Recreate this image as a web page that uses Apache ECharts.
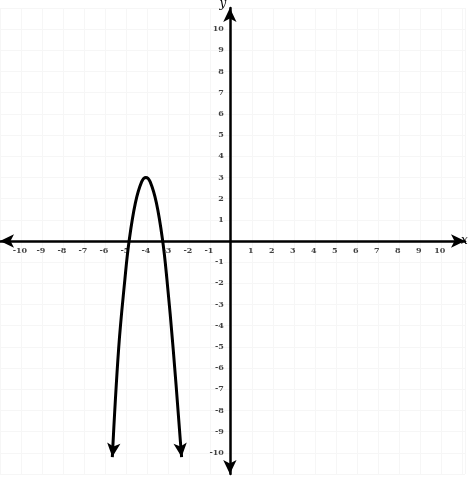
<!DOCTYPE html>
<html><head><meta charset="utf-8">
<script src="https://cdn.jsdelivr.net/npm/echarts@6/dist/echarts.min.js"></script>
<style>html,body{margin:0;background:#fff}#c{width:474px;height:478px}</style>
</head><body><div id="c"></div>
<script>
// 读图得到的抛物线点 (x, y)
const curveX = [-5.6, -5.3, -5.0, -4.8, -4.5, -4.2, -4.0, -3.8, -3.5, -3.2, -3.0, -2.7, -2.3]
const curveY = [-10.2, -5.1, -1.8, 0, 1.8, 2.8, 3.0, 2.8, 1.8, 0, -1.8, -5.1, -10.2]
const ticks = [-10, -9, -8, -7, -6, -5, -4, -3, -2, -1, 1, 2, 3, 4, 5, 6, 7, 8, 9, 10]

const chart = echarts.init(document.getElementById('c'))
const data = curveX.map((x, i) => {
    let item = { value: [x, curveY[i]], symbol: 'none' }
    if (i == 0) item = { value: [x, curveY[i]], symbol: 'arrow', symbolSize: [10, 14], symbolRotate: 174 }
    if (i == curveX.length - 1) item = { value: [x, curveY[i]], symbol: 'arrow', symbolSize: [10, 14], symbolRotate: 186 }
    return item
})
const labelFont = { fontFamily: 'DejaVu Serif', fontWeight: 'bold', fontSize: 8, color: '#111' }
const axisLine = { onZero: true, lineStyle: { color: '#000', width: 2.5 }, symbol: ['arrow', 'arrow'], symbolSize: [10, 14] }
// 刻度标签放在坐标轴旁边
const xLabels = ticks.map(v => ({ value: [v, 0], label: { formatter: String(v) } }))
const yLabels = ticks.map(v => ({ value: [0, v], label: { formatter: String(v) } }))
chart.setOption({
    animation: false,
    grid: { left: 0, right: 9, top: 8, bottom: 4, outerBoundsMode: 'none' },
    xAxis: {
        type: 'value', min: -10.95, max: 11.2, interval: 1,
        axisLine, axisTick: { show: false }, axisLabel: { show: false },
        splitLine: { lineStyle: { color: '#f6f6f6', width: 1 } },
        name: 'x', nameGap: -4, nameTextStyle: { fontStyle: 'italic', fontFamily: 'DejaVu Serif', fontSize: 12, padding: [14, 0, 0, 0] }
    },
    yAxis: {
        type: 'value', min: -11, max: 11, interval: 1,
        axisLine, axisTick: { show: false }, axisLabel: { show: false },
        splitLine: { lineStyle: { color: '#f6f6f6', width: 1 } },
        name: 'y', nameGap: -2, nameTextStyle: { fontStyle: 'italic', fontFamily: 'DejaVu Serif', fontSize: 12, padding: [0, 14, 0, 0] }
    },
    series: [{
        type: 'line', smooth: 0.4, data, z: 5,
        lineStyle: { color: '#000', width: 3 },
        itemStyle: { color: '#000' }
    }, {
        type: 'scatter', data: xLabels, symbolSize: 0, silent: true,
        label: { show: true, position: 'bottom', distance: 6, ...labelFont }
    }, {
        type: 'scatter', data: yLabels, symbolSize: 0, silent: true,
        label: { show: true, position: 'left', distance: 6, ...labelFont }
    }]
})
</script></body></html>
